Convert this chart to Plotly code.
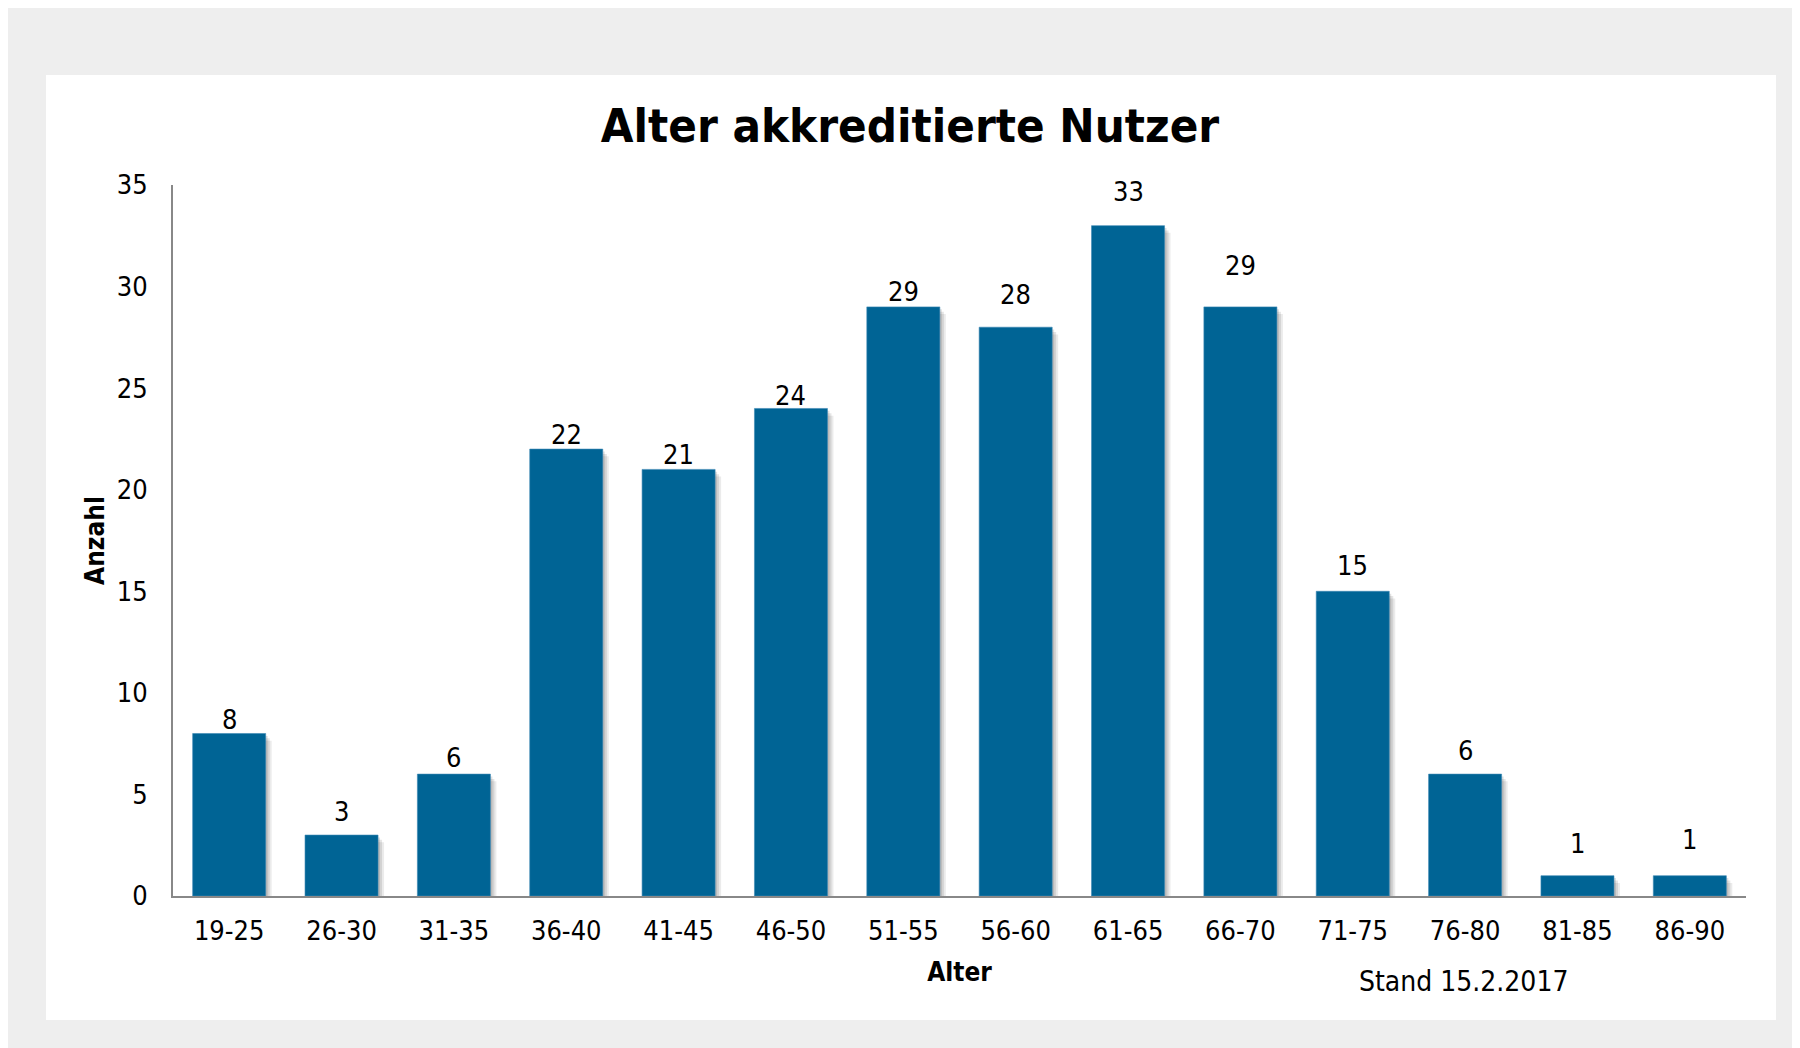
import plotly.graph_objects as go

# ---- data ----
categories = ["19-25", "26-30", "31-35", "36-40", "41-45", "46-50", "51-55",
              "56-60", "61-65", "66-70", "71-75", "76-80", "81-85", "86-90"]
counts = [8, 3, 6, 22, 21, 24, 29, 28, 33, 29, 15, 6, 1, 1]
y_ticks = [0, 5, 10, 15, 20, 25, 30, 35]

# ---- styling ----
W, H = 1800, 1048
ML, MR, MT, MB = 165, 62, 177, 160
BAR_COLOR = "#006495"
FONT = "Tahoma, 'DejaVu Sans Condensed', 'DejaVu Sans', sans-serif"
label_lift = [14, 24, 17, 15, 15, 13, 15, 33, 34, 41, 26, 24, 32, 36]  # px above bar top
BAR_W = 0.65
plot_w = W - ML - MR
plot_h = H - MT - MB


def px_x(px):
    return (px - ML) / plot_w


def px_y(py):
    return (H - MB - py) / plot_h


fig = go.Figure()

# soft drop shadow layers
for dx, alpha in [(6, 0.08), (4, 0.10), (2, 0.12)]:
    fig.add_trace(go.Bar(
        x=categories, y=counts, base=-dx * 35 / plot_h * 1.2,
        width=BAR_W, offset=-BAR_W / 2 + dx / (plot_w / len(categories)),
        marker=dict(color=f"rgba(0,0,0,{alpha})", line=dict(width=0)),
        hoverinfo="skip", showlegend=False,
    ))

fig.add_trace(go.Bar(
    x=categories, y=counts, width=BAR_W, offset=-BAR_W / 2,
    marker=dict(color=BAR_COLOR, line=dict(color="#3b86b3", width=0.6)),
    showlegend=False,
))

for c, v, lift in zip(categories, counts, label_lift):
    fig.add_annotation(x=c, y=v, text=str(v), showarrow=False,
                       xref="x", yref="y", yanchor="middle", yshift=lift,
                       font=dict(family=FONT, size=27, color="#000000"))

fig.add_annotation(text="Stand 15.2.2017", xref="paper", yref="paper",
                   x=px_x(1455), y=px_y(973), xanchor="center", yanchor="middle",
                   showarrow=False, font=dict(family=FONT, size=28, color="#000000"))

shapes = [
    # white chart panel
    dict(type="rect", xref="paper", yref="paper", x0=px_x(38), x1=px_x(1768),
         y0=px_y(1012), y1=px_y(67), fillcolor="white", line=dict(width=0), layer="below"),
]

fig.update_layout(
    width=W, height=H,
    margin=dict(l=ML, r=MR, t=MT, b=MB, pad=0),
    paper_bgcolor="#eeeeee", plot_bgcolor="rgba(0,0,0,0)",
    barmode="overlay",
    shapes=shapes,
    title=dict(text="<b>Alter akkreditierte Nutzer</b>", x=px_x(902), xref="paper",
               y=1 - 118 / H, yref="container", xanchor="center", yanchor="middle",
               font=dict(family=FONT, size=47, color="#000000")),
    font=dict(family=FONT, color="#000000"),
    xaxis=dict(
        showline=True, linecolor="#888888", linewidth=2, ticks="",
        showgrid=False, zeroline=False,
        tickfont=dict(family=FONT, size=27, color="#000000"),
        ticklabelstandoff=10,
        title=dict(text="<b>Alter</b>", standoff=17,
                   font=dict(family=FONT, size=26, color="#000000")),
    ),
    yaxis=dict(
        range=[0, 35], tickvals=y_ticks, showline=True, linecolor="#888888",
        linewidth=2, ticks="", showgrid=False, zeroline=False,
        tickfont=dict(family=FONT, size=27, color="#000000"),
        ticklabelstandoff=18,
        title=dict(text="<b>Anzahl</b>", standoff=5,
                   font=dict(family=FONT, size=26, color="#000000")),
    ),
)

fig.write_html("out.html")
